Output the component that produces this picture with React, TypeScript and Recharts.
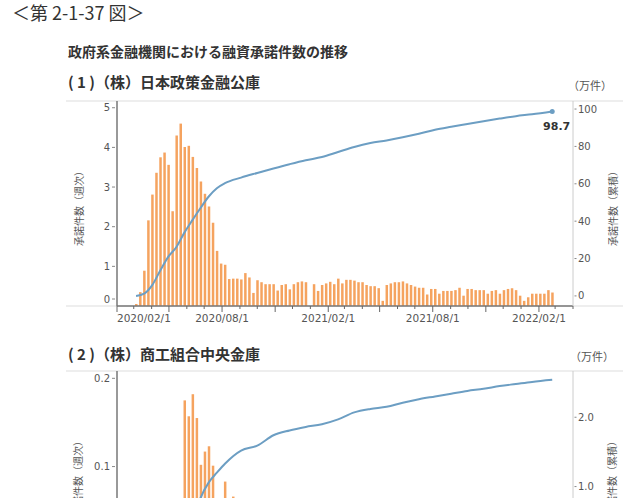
import React from "react";
import { Bar, ComposedChart, Line, XAxis, YAxis } from "recharts";

// weekly series, first week ending 2020-03-05; null = no release that week
const firstWeek = "2020-03-05";

// (1) 日本政策金融公庫: weekly approvals (万件) and cumulative line (万件)
const jfcWeekly = [
  0.05, 0.35, 0.89, 2.16, 2.81, 3.36, 3.75, 3.87, 3.56, 2.39, 4.3, 4.6, 4.01, 4.04, 3.76, 3.48,
  3.14, 2.83, 2.51, 2.1, 1.39, 1.07, 1.04, 0.68, 0.69, 0.69, 0.67, 0.83, 0.72, 0.33, 0.65,
  0.6, 0.55, 0.55, 0.55, 0.39, 0.53, 0.55, 0.42, 0.55, 0.6, 0.62, 0.6,
  null,
  0.55, 0.38, 0.53, 0.57, 0.61, 0.55, 0.69, 0.57, 0.66, 0.66, 0.64, 0.6, 0.6, 0.53, 0.5, 0.5,
  0.45, 0.13, 0.53, 0.57, 0.6, 0.6, 0.62, 0.57, 0.53,
  0.49, 0.46, 0.46, 0.29, 0.43, 0.43, 0.31, 0.38, 0.38, 0.38, 0.4, 0.46, 0.26, 0.43, 0.43, 0.4,
  0.4, 0.4, 0.31, 0.38, 0.4, 0.31, 0.4, 0.43, 0.45, 0.4, 0.26, 0.13, 0.22, 0.31, 0.31, 0.31,
  0.31, 0.4, 0.34,
];
const jfcCumWeeks = [
  0, 2, 4, 6, 8, 10, 12, 14, 16, 18, 20, 22, 26, 30, 34, 38, 42, 46, 50, 54, 58, 62, 66, 70, 74,
  78, 82, 86, 90, 94, 98, 103,
];
const jfcCum = [
  0, 1.2, 5.8, 13.6, 21, 26.2, 34, 40.7, 47.2, 53.2, 57.6, 60.3, 63.3, 65.8, 68.2, 70.5, 72.6,
  74.3, 77, 79.7, 81.8, 83.2, 84.9, 86.8, 88.9, 90.5, 92, 93.5, 94.9, 96.2, 97.2, 98.7,
];

// (2) 商工組合中央金庫
const shokoWeekly = [
  0, 0, 0.002, 0.004, 0.005, 0.006, 0.008, 0.01, 0.012, 0.015, 0.018, 0.02,
  0.175, 0.157, 0.182, 0.155, 0.102, 0.117, 0.123, 0.101, 0.04, 0.035, 0.083, 0.04, 0.066,
  0.04, 0.035, 0.03, 0.03, 0.025, 0.02,
  0.035, 0.03, 0.035, 0.03, 0.02, 0.02, 0.02, 0.02, 0.012, 0.013, 0.012, 0.013,
  null,
  0.01, 0.01, 0.01, 0.015, 0.018, 0.02, 0.017, 0.025, 0.025, 0.025, 0.025, 0.012, 0.013, 0.012,
  0.013, 0.008, 0.007, 0.008, 0.007, 0.015, 0.015, 0.015, 0.015, 0.012, 0.013, 0.012, 0.013,
  0.01, 0.01, 0.01, 0.01, 0.01, 0.01, 0.01, 0.01, 0.01, 0.01, 0.01, 0.01, 0.008, 0.007, 0.008,
  0.007, 0.01, 0.01, 0.01, 0.01, 0.008, 0.007, 0.008, 0.007, 0.008, 0.007, 0.008, 0.007, 0.006,
  0.004, 0.006, 0.006, 0.006, 0.006,
];
const shokoCumWeeks = [
  0, 4, 8, 12, 14, 16, 18, 20, 22, 26, 30, 34, 38, 42, 46, 50, 54, 58, 62, 66, 70, 74, 78, 82,
  86, 90, 94, 98, 103,
];
const shokoCum = [
  0, 0.01, 0.04, 0.12, 0.45, 0.84, 1.06, 1.2, 1.33, 1.52, 1.59, 1.74, 1.81, 1.86, 1.9, 1.97,
  2.07, 2.12, 2.15, 2.21, 2.26, 2.3, 2.34, 2.38, 2.41, 2.45, 2.48, 2.51, 2.54,
];

const dateLabels = ["2020/02/1", "2020/08/1", "2021/02/1", "2021/08/1", "2022/02/1"];
const jfcLeftTicks = [0, 1, 2, 3, 4, 5];
const jfcRightTicks = [0, 20, 40, 60, 80, 100];
const shokoLeftTicks = [0, 0.1, 0.2];
const shokoRightTicks = [0, 1, 2];

const DAY = 86400000;
const CJK = '"Noto Sans CJK JP", sans-serif';
const NUM = '"DejaVu Sans", Verdana, sans-serif';
const BAR = "#F5A35F";
const LINE = "#6C9EC3";
const TXT = "#555";

const t0 = Date.parse(firstWeek + "T00:00:00Z");
const toTime = (s: string) => {
  const [y, m, d] = s.split("/").map(Number);
  return Date.UTC(y, m - 1, d);
};
const xStart = Date.UTC(2020, 1, 1);
const xEnd = Date.UTC(2022, 3, 1);
const monthTicks: number[] = [];
for (let m = 0; m <= 26; m++) monthTicks.push(Date.UTC(2020, 1 + m, 1));

const buildRows = (weekly: (number | null)[], cumWeeks: number[], cum: number[]) =>
  weekly.map((v, i) => {
    const k = cumWeeks.indexOf(i);
    return { t: t0 + i * 7 * DAY, weekly: v, cum: k >= 0 ? cum[k] : null };
  });

const jfcRows = buildRows(jfcWeekly, jfcCumWeeks, jfcCum);
const shokoRows = buildRows(shokoWeekly, shokoCumWeeks, shokoCum);

const XTick = (props: any) => {
  const { x, y, payload } = props;
  const m = new Date(payload.value).getUTCMonth();
  const quarter = (m + 11) % 3 === 0;
  const label = dateLabels.find((l) => toTime(l) === payload.value);
  return (
    <g>
      <line x1={x} x2={x} y1={y} y2={y + (quarter ? 6 : 3)} stroke="#666" />
      {label && (
        <text
          x={x}
          y={y + 16}
          textAnchor={payload.value === xStart ? "start" : "middle"}
          fontFamily={NUM}
          fontSize={10.5}
          fill={TXT}
        >
          {label}
        </text>
      )}
    </g>
  );
};

const leftTick = (fmt: (v: number) => string, lift0: boolean) => (props: any) => {
  const { x, y, payload } = props;
  const dy = lift0 && payload.value === 0 ? -7 : 0;
  return (
    <g>
      <line x1={x - 5} x2={x - 2} y1={y + dy} y2={y + dy} stroke="#888" />
      <text x={x - 7} y={y + dy + 3.5} textAnchor="end" fontFamily={NUM} fontSize={10} fill={TXT}>
        {fmt(payload.value)}
      </text>
    </g>
  );
};

const rightTick = (fmt: (v: number) => string) => (props: any) => {
  const { x, y, payload } = props;
  return (
    <g>
      <line x1={x + 1.5} x2={x + 3.5} y1={y} y2={y} stroke="#888" />
      <text x={x + 5} y={y + 3.5} textAnchor="start" fontFamily={NUM} fontSize={10} fill={TXT}>
        {fmt(payload.value)}
      </text>
    </g>
  );
};

const endDot = (last: number, text: string) => (props: any) => {
  const { cx, cy, index } = props;
  if (index !== last || cy == null) return <g key={"d" + index} />;
  return (
    <g key={"d" + index}>
      <circle cx={cx} cy={cy} r={2.5} fill={LINE} />
      <text
        x={cx + 18}
        y={cy + 19}
        textAnchor="end"
        fontFamily={NUM}
        fontWeight="bold"
        fontSize={11}
        fill="#333"
      >
        {text}
      </text>
    </g>
  );
};

type PanelProps = {
  top: number;
  rows: any[];
  leftDomain: [number, number];
  leftTicks: number[];
  leftFmt: (v: number) => string;
  lift0: boolean;
  rightDomain: [number, number];
  rightTicks: number[];
  rightFmt: (v: number) => string;
  endText: string;
};

const Panel = (p: PanelProps) => (
  <div style={{ position: "absolute", left: 0, top: p.top }}>
    <ComposedChart
      width={640}
      height={340}
      data={p.rows}
      margin={{ top: 101, right: 7, bottom: 4, left: 57 }}
    >
      <XAxis
        dataKey="t"
        type="number"
        domain={[xStart, xEnd]}
        ticks={monthTicks}
        interval={0}
        allowDataOverflow
        tick={XTick}
        tickLine={false}
        tickSize={0}
        tickMargin={0}
        height={30}
        axisLine={{ stroke: "#777", strokeWidth: 1.5 }}
      />
      <YAxis
        yAxisId="left"
        orientation="left"
        width={60}
        domain={p.leftDomain}
        ticks={p.leftTicks}
        interval={0}
        allowDataOverflow
        tick={leftTick(p.leftFmt, p.lift0)}
        tickLine={false}
        tickSize={0}
        tickMargin={0}
        axisLine={{ stroke: "#777", strokeWidth: 1.5 }}
      />
      <YAxis
        yAxisId="right"
        orientation="right"
        width={60}
        domain={p.rightDomain}
        ticks={p.rightTicks}
        interval={0}
        allowDataOverflow
        tick={rightTick(p.rightFmt)}
        tickLine={false}
        tickSize={0}
        tickMargin={0}
        axisLine={{ stroke: "#ccc" }}
      />
      <Bar yAxisId="left" dataKey="weekly" fill={BAR} barSize={2.5} isAnimationActive={false} />
      <Line
        yAxisId="right"
        dataKey="cum"
        type="monotone"
        stroke={LINE}
        strokeWidth={2}
        connectNulls
        dot={endDot(p.rows.length - 1, p.endText)}
        activeDot={false}
        isAnimationActive={false}
      />
    </ComposedChart>
  </div>
);

const VLabel = ({ x, y, text }: { x: number; y: number; text: string }) => (
  <text
    transform={`translate(${x},${y}) rotate(-90)`}
    textAnchor="middle"
    dominantBaseline="central"
    fontFamily={CJK}
    fontSize={10}
    fill={TXT}
  >
    {text}
  </text>
);

export default function App() {
  return (
    <div
      style={{
        position: "absolute",
        left: 0,
        top: 0,
        width: 640,
        height: 498,
        overflow: "hidden",
        background: "#fff",
      }}
    >
      <svg width={640} height={498} style={{ position: "absolute", left: 0, top: 0 }}>
        <text x={12} y={20} fontFamily={CJK} fontSize={18} fill="#333">
          ＜第 2-1-37 図＞
        </text>
        <text x={68} y={57} fontFamily={CJK} fontSize={14} fontWeight="bold" fill="#333">
          政府系金融機関における融資承諾件数の推移
        </text>
        <text x={68} y={88} fontFamily={CJK} fontSize={15} fontWeight="bold" fill="#333">
          ( 1 )（株）日本政策金融公庫
        </text>
        <text x={68} y={360} fontFamily={CJK} fontSize={15} fontWeight="bold" fill="#333">
          ( 2 )（株）商工組合中央金庫
        </text>
        <text x={568} y={90} fontFamily={CJK} fontSize={11} fill={TXT}>
          （万件）
        </text>
        <text x={570} y={361} fontFamily={CJK} fontSize={11} fill={TXT}>
          （万件）
        </text>
        <line x1={66} x2={623} y1={101} y2={101} stroke="#ddd" />
        <line x1={66} x2={623} y1={306} y2={306} stroke="#ddd" />
        <line x1={66} x2={623} y1={371} y2={371} stroke="#ddd" />
        <VLabel x={78} y={206} text="承諾件数（週次）" />
        <VLabel x={612} y={206} text="承諾件数（累積）" />
        <VLabel x={77} y={476} text="承諾件数（週次）" />
        <VLabel x={611} y={476} text="承諾件数（累積）" />
      </svg>
      <Panel
        top={0}
        rows={jfcRows}
        leftDomain={[0, 5.17]}
        leftTicks={jfcLeftTicks}
        leftFmt={(v) => String(v)}
        lift0
        rightDomain={[-5.4, 104.3]}
        rightTicks={jfcRightTicks}
        rightFmt={(v) => String(v)}
        endText="98.7"
      />
      <Panel
        top={270}
        rows={shokoRows}
        leftDomain={[-0.024, 0.2083]}
        leftTicks={shokoLeftTicks}
        leftFmt={(v) => (v === 0 ? "0" : v.toFixed(1))}
        lift0={false}
        rightDomain={[-0.29, 2.667]}
        rightTicks={shokoRightTicks}
        rightFmt={(v) => v.toFixed(1)}
        endText="2.5"
      />
    </div>
  );
}
